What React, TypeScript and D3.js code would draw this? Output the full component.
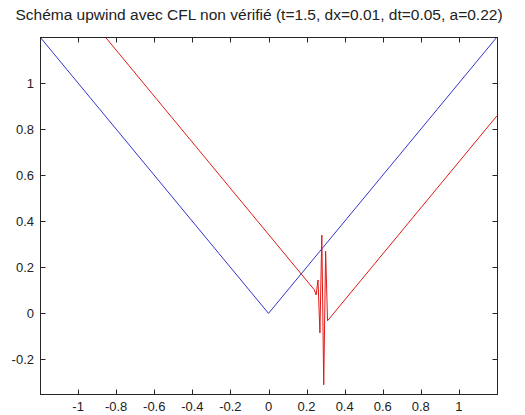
import React from "react";
import * as d3 from "d3";

const title = "Schéma upwind avec CFL non vérifié (t=1.5, dx=0.01, dt=0.05, a=0.22)";
const xTicks = [-1, -0.8, -0.6, -0.4, -0.2, 0, 0.2, 0.4, 0.6, 0.8, 1];
const yTicks = [-0.2, 0, 0.2, 0.4, 0.6, 0.8, 1];

// exact solution |x| (blue)
const blueX = [-1.2, 0, 1.2];
const blueY = [1.2, 0, 1.2];

// upwind numerical solution (red)
const redX = [-1.2, -0.857, 0.24, 0.25, 0.26, 0.27, 0.28, 0.29, 0.3, 0.31, 1.2];
const redY = [1.2, 1.2, 0.103, 0.08, 0.145, -0.085, 0.34, -0.31, 0.27, -0.032, 0.858];

const W = 525, H = 415;
const L = 40, R = 497, T = 37, B = 394;

export default function App() {
  const x = d3.scaleLinear().domain([-1.2, 1.2]).range([L, R]);
  const y = d3.scaleLinear().domain([-0.35, 1.2]).range([B, T]);
  const line = d3.line<[number, number]>().x(d => x(d[0])).y(d => y(d[1]));
  const blue = blueX.map((v, i) => [v, blueY[i]] as [number, number]);
  const red = redX.map((v, i) => [v, redY[i]] as [number, number]);
  const fmt = (v: number) => (Math.abs(v) < 1e-9 ? "0" : String(+v.toFixed(1)));
  const tl = 5;
  const font = "'Liberation Sans', Arial, sans-serif";
  return (
    <svg width={W} height={H} style={{ position: "absolute", left: 0, top: 0, background: "#fff" }}>
      <rect x={0} y={0} width={W} height={H} fill="#fff" />
      <defs>
        <clipPath id="clip">
          <rect x={L} y={T} width={R - L} height={B - T} />
        </clipPath>
      </defs>
      <text x={259} y={20} textAnchor="middle" fontFamily={font} fontSize={15.5} fill="#222">
        {title}
      </text>
      <g clipPath="url(#clip)">
        <path d={line(blue) || ""} fill="none" stroke="#3333cc" strokeWidth={1} />
        <path d={line(red) || ""} fill="none" stroke="#e01818" strokeWidth={1} />
      </g>
      <rect x={L + 0.5} y={T + 0.5} width={R - L} height={B - T} fill="none" stroke="#262626" strokeWidth={1} />
      {xTicks.map(t => {
        const px = Math.round(x(t)) + 0.5;
        return (
          <g key={"x" + t}>
            <line x1={px} x2={px} y1={B + 0.5} y2={B + 0.5 - tl} stroke="#262626" />
            <line x1={px} x2={px} y1={T + 0.5} y2={T + 0.5 + tl} stroke="#262626" />
            <text x={x(t)} y={411} textAnchor="middle" fontFamily={font} fontSize={13} fill="#222">
              {fmt(t)}
            </text>
          </g>
        );
      })}
      {yTicks.map(t => {
        const py = Math.round(y(t)) + 0.5;
        return (
          <g key={"y" + t}>
            <line x1={L + 0.5} x2={L + 0.5 + tl} y1={py} y2={py} stroke="#262626" />
            <line x1={R + 0.5} x2={R + 0.5 - tl} y1={py} y2={py} stroke="#262626" />
            <text x={34} y={y(t) + 4.7} textAnchor="end" fontFamily={font} fontSize={13} fill="#222">
              {fmt(t)}
            </text>
          </g>
        );
      })}
    </svg>
  );
}
